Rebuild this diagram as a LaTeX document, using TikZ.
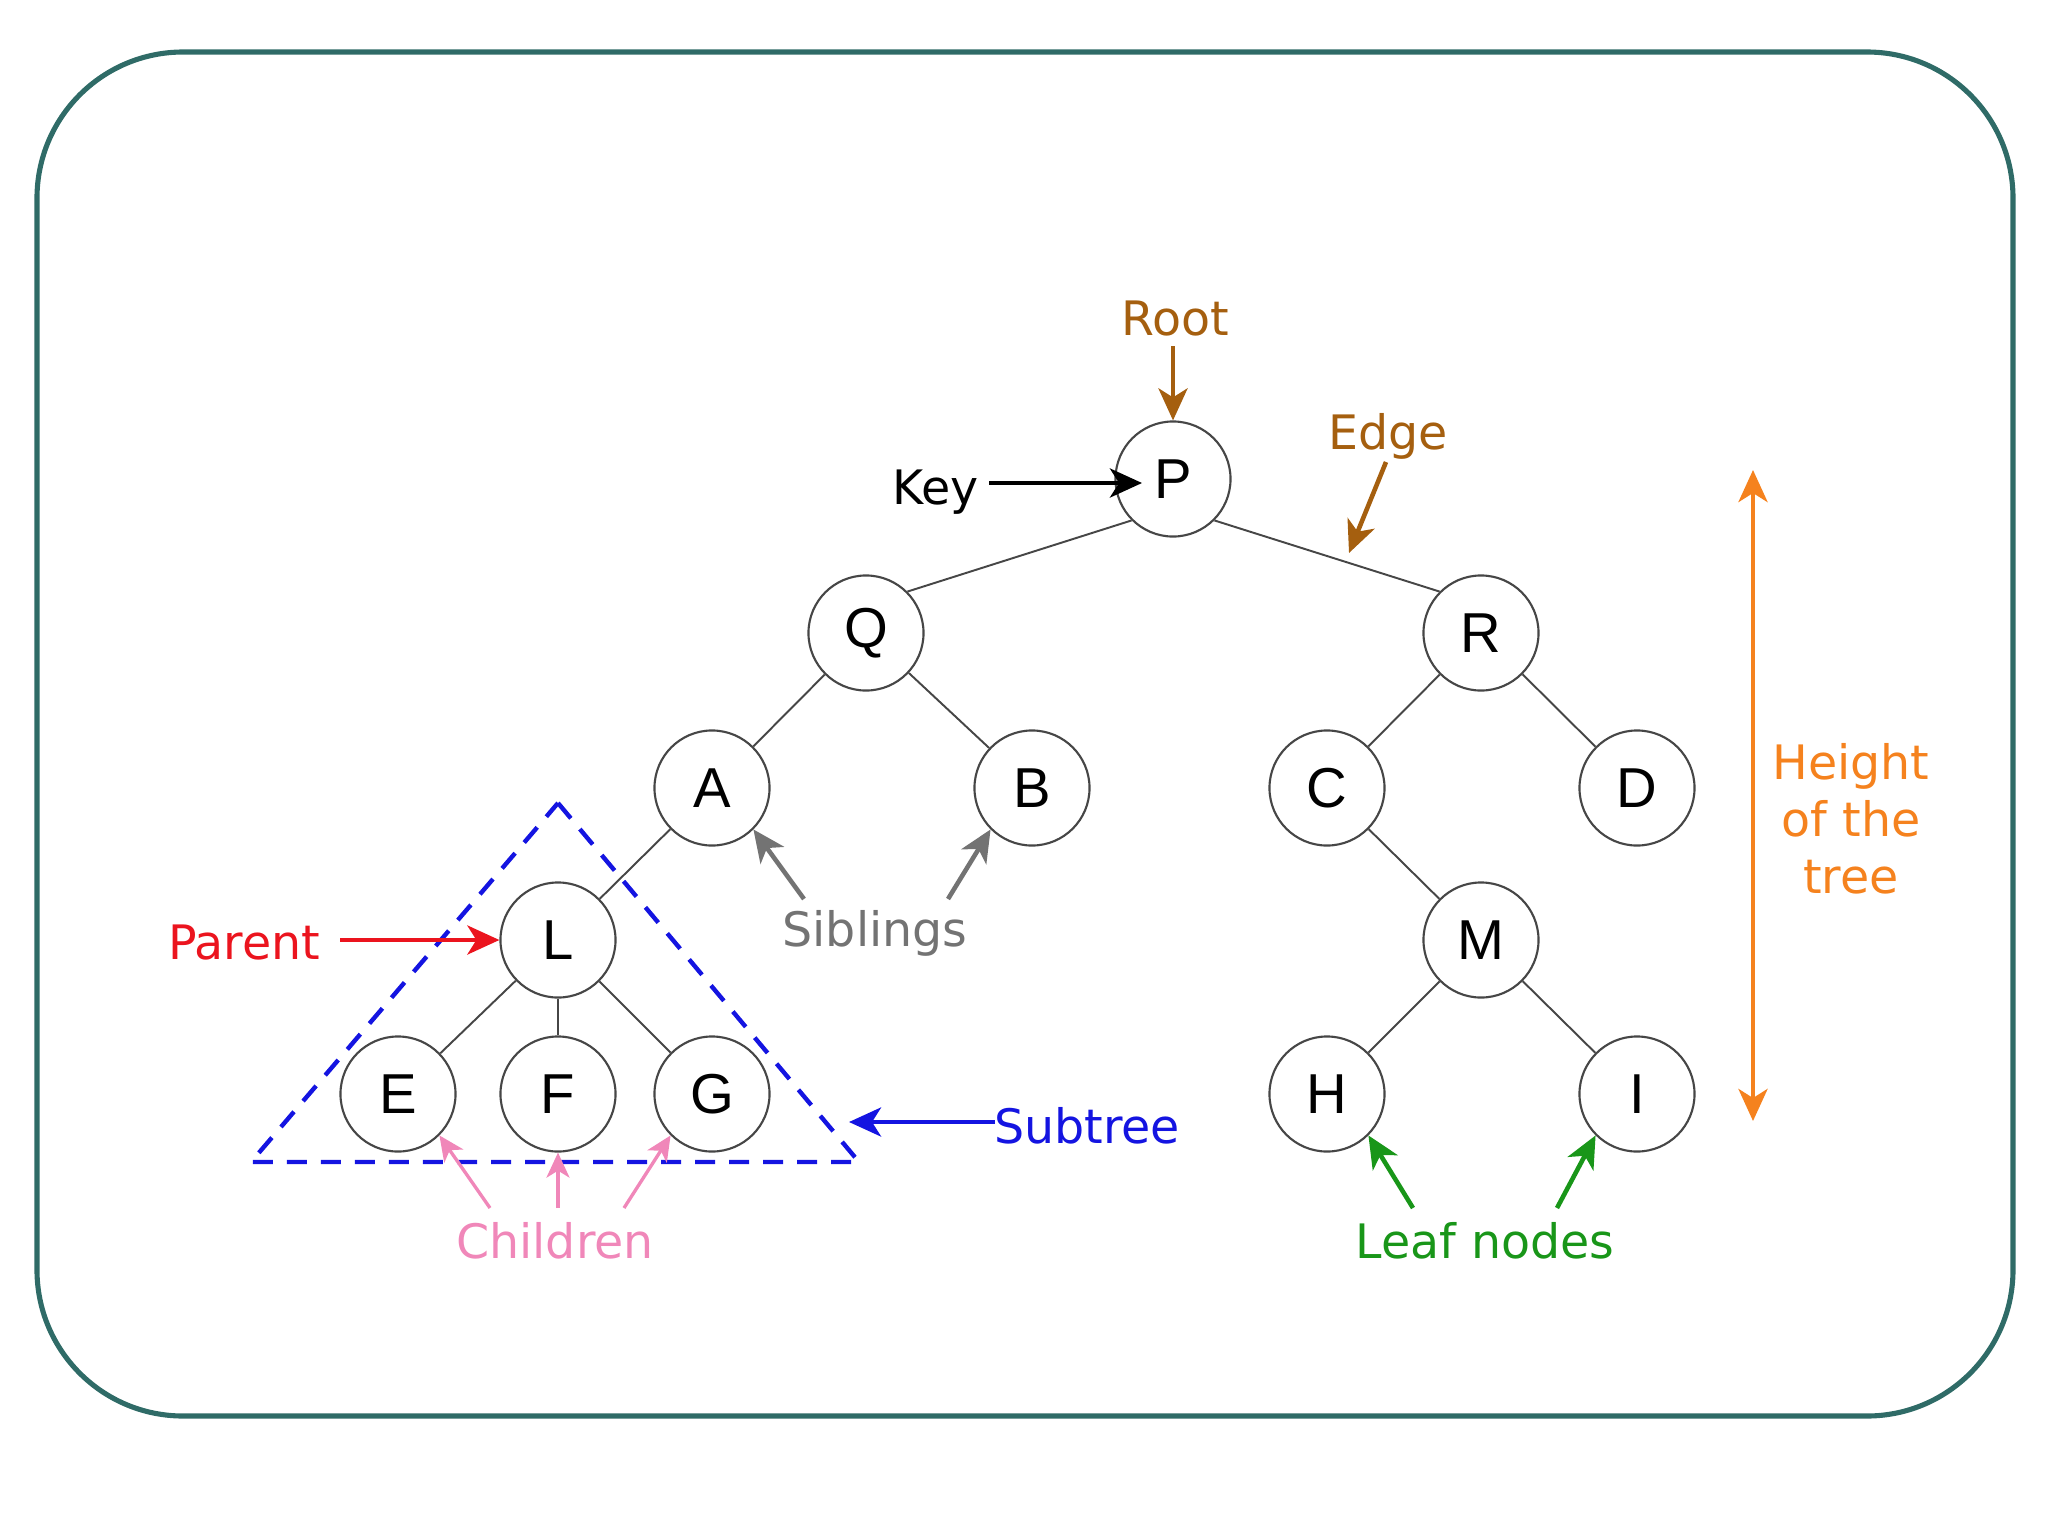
\documentclass[tikz,border=0pt]{standalone}
\usepackage{fontspec}
\setmainfont{DejaVu Sans}
\newfontfamily\nodefont{Liberation Sans}
\usetikzlibrary{arrows.meta}
\definecolor{framecol}{RGB}{47,107,103}
\definecolor{browncol}{RGB}{165,95,15}
\definecolor{orangecol}{RGB}{245,130,30}
\definecolor{redcol}{RGB}{235,20,30}
\definecolor{graycol}{RGB}{115,115,115}
\definecolor{bluecol}{RGB}{20,20,225}
\definecolor{pinkcol}{RGB}{240,135,185}
\definecolor{greencol}{RGB}{25,150,25}
\definecolor{edgecol}{RGB}{70,70,70}
\tikzset{
  treenode/.style={circle, draw=edgecol, line width=0.6pt, fill=white, minimum size=1.15cm, inner sep=0pt, font=\nodefont\fontsize{16}{16}\selectfont},
  treeedge/.style={draw=edgecol, line width=0.55pt},
  lbl/.style={inner sep=0pt, font=\fontsize{13.5}{16.2}\selectfont},
  arr/.style={line width=1.3pt, -{Stealth[length=0.32cm,width=0.29cm,inset=0.09cm]}},
  thinarr/.style={line width=0.95pt, -{Stealth[length=0.25cm,width=0.23cm,inset=0.07cm]}},
}
\begin{document}
\begin{tikzpicture}[x=0.01cm,y=-0.01cm]
\useasboundingbox (0,0) rectangle (2048,1536);
\draw[framecol, line width=1.45pt, rounded corners=1.46cm] (37,52) rectangle (2013,1416);

% tree nodes
\node[treenode] (P) at (1173,479) {P};
\node[treenode] (Q) at (866,633) {Q};
\node[treenode] (R) at (1481,633) {R};
\node[treenode] (A) at (712,788) {A};
\node[treenode] (B) at (1032,788) {B};
\node[treenode] (C) at (1327,788) {C};
\node[treenode] (D) at (1637,788) {D};
\node[treenode] (L) at (558,940) {L};
\node[treenode] (M) at (1481,940) {M};
\node[treenode] (E) at (398,1094) {E};
\node[treenode] (F) at (558,1094) {F};
\node[treenode] (G) at (712,1094) {G};
\node[treenode] (H) at (1327,1094) {H};
\node[treenode] (I) at (1637,1094) {I};

% edges
\draw[treeedge] (P.south west) -- (Q.north east);
\draw[treeedge] (P.south east) -- (R.north west);
\draw[treeedge] (Q) -- (A);
\draw[treeedge] (Q) -- (B);
\draw[treeedge] (R) -- (C);
\draw[treeedge] (R) -- (D);
\draw[treeedge] (A) -- (L);
\draw[treeedge] (L) -- (E);
\draw[treeedge] (L) -- (F);
\draw[treeedge] (L) -- (G);
\draw[treeedge] (C) -- (M);
\draw[treeedge] (M) -- (H);
\draw[treeedge] (M) -- (I);

% subtree triangle
\draw[bluecol, line width=1.25pt, dash pattern=on 0.2cm off 0.14cm] (558,803) -- (859,1162) -- (251,1162) -- cycle;

% labels
\node[lbl, text=browncol] (Root) at (1175,319) {Root};
\node[lbl] (Key) at (936,492) {Key};
\node[lbl, text=browncol] (Edge) at (1388,436) {Edge};
\node[lbl, text=redcol] (Parent) at (244,943) {Parent};
\node[lbl, text=graycol] (Siblings) at (875,933) {Siblings};
\node[lbl, text=bluecol] (Subtree) at (1087,1126) {Subtree};
\node[lbl, text=pinkcol] (Children) at (555,1241) {Children};
\node[lbl, text=greencol] (Leaf) at (1485,1241) {Leaf nodes};
\node[lbl, text=orangecol, align=center] (Height) at (1851,819) {Height\\of the\\tree};

% helper coordinates
\coordinate (rootst) at (1173,346);
\coordinate (keyst) at (989,483);
\coordinate (keyend) at (1142,483);
\coordinate (edgestart) at (1386,462);
\coordinate (edgeend) at (1349,553);
\coordinate (parst) at (340,940);
\coordinate (sib1) at (804,899);
\coordinate (sib2) at (948,899);
\coordinate (subst) at (995,1122);
\coordinate (subend) at (849,1122);
\coordinate (ch1) at (490,1208);
\coordinate (ch2) at (558,1208);
\coordinate (ch3) at (624,1208);
\coordinate (lf1) at (1413,1208);
\coordinate (lf2) at (1557,1208);
\coordinate (htop) at (1753,470);
\coordinate (hbot) at (1753,1121);

% annotation arrows
\draw[arr, browncol] (rootst) -- (P.north);
\draw[arr, black] (keyst) -- (keyend);
\draw[arr, browncol] (edgestart) -- (edgeend);
\draw[arr, redcol] (parst) -- (L.west);
\draw[arr, graycol] (sib1) -- (A.south east);
\draw[arr, graycol] (sib2) -- (B.south west);
\draw[arr, bluecol] (subst) -- (subend);
\draw[thinarr, pinkcol] (ch1) -- (E.south east);
\draw[thinarr, pinkcol] (ch2) -- (F.south);
\draw[thinarr, pinkcol] (ch3) -- (G.south west);
\draw[arr, greencol] (lf1) -- (H.south east);
\draw[arr, greencol] (lf2) -- (I.south west);
\draw[orangecol, line width=1.3pt, {Stealth[length=0.32cm,width=0.29cm,inset=0.09cm]}-{Stealth[length=0.32cm,width=0.29cm,inset=0.09cm]}] (htop) -- (hbot);
\end{tikzpicture}
\end{document}
